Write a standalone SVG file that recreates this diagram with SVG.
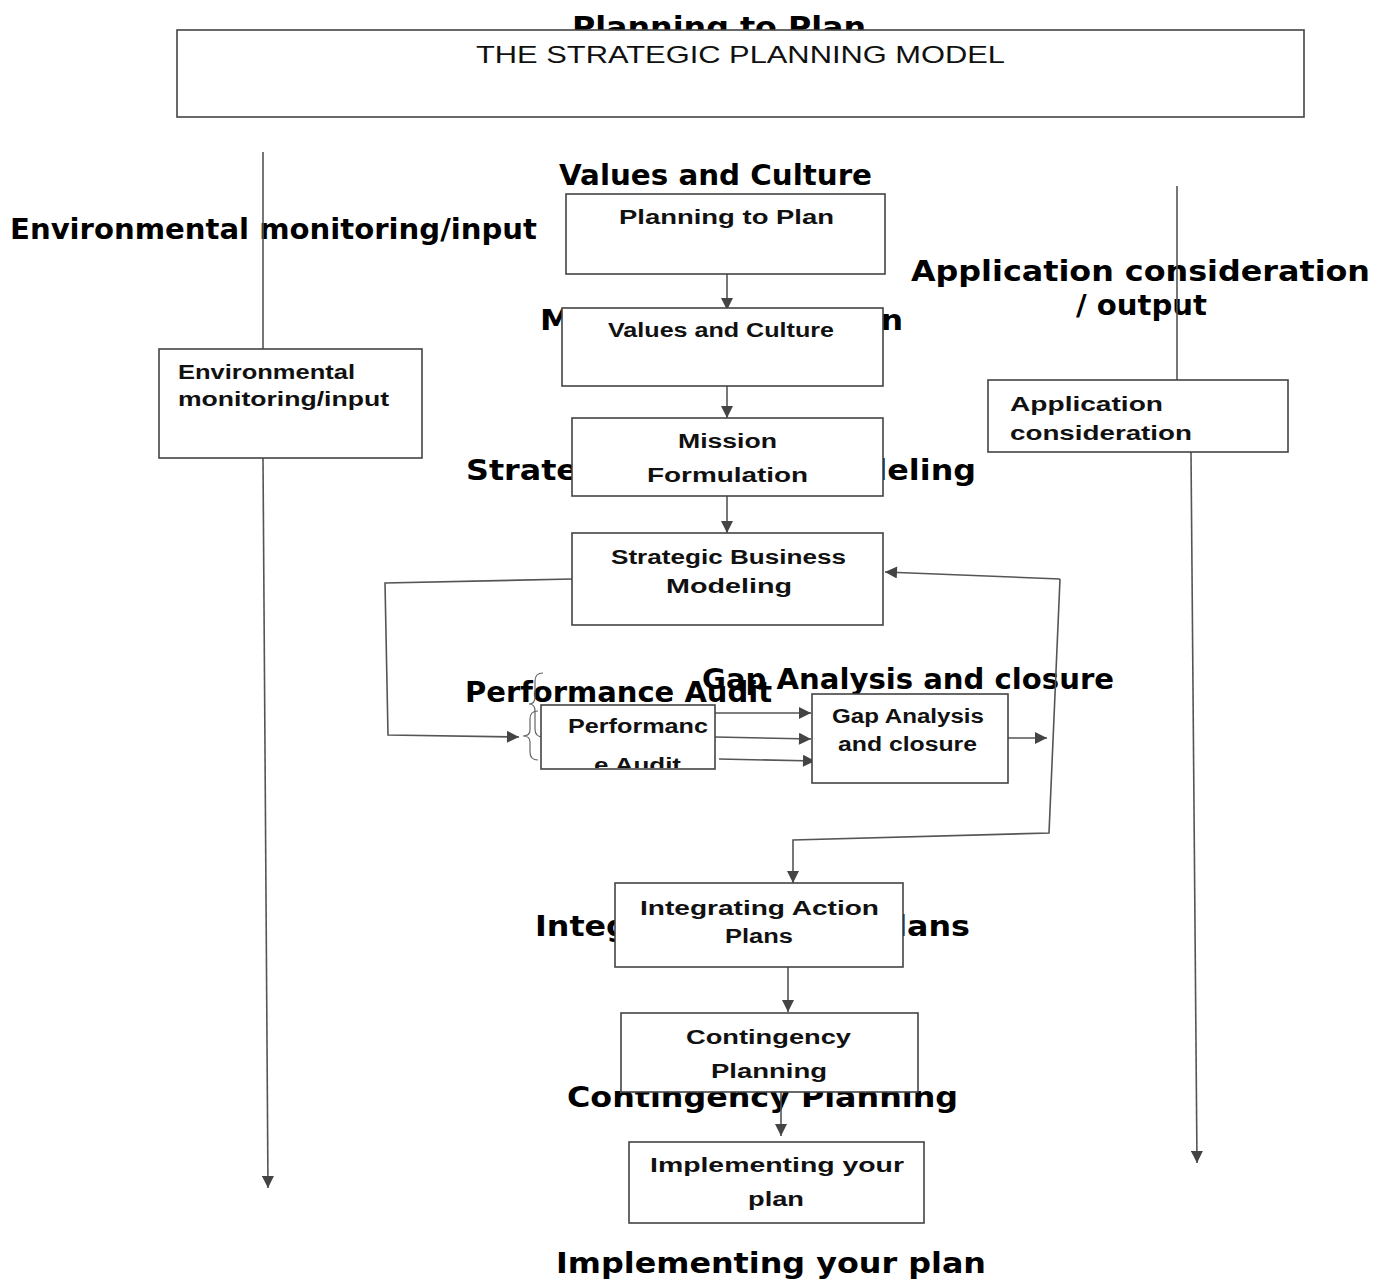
<svg xmlns="http://www.w3.org/2000/svg" width="1390" height="1281" viewBox="0 0 1390 1281">
<style>
.lbl{font-family:"DejaVu Sans",sans-serif;font-weight:bold;font-size:28px;fill:#000}
.box{fill:#fff;stroke:#444;stroke-width:1.6}
.bt{font-family:"Liberation Sans",Arial,sans-serif;font-weight:bold;font-size:20px;fill:#111}
.ttl{font-family:"Liberation Sans",Arial,sans-serif;font-size:24px;fill:#111}
.ln{fill:none;stroke:#555;stroke-width:1.6}
.arr{fill:none;stroke:#555;stroke-width:1.6;marker-end:url(#ah)}
.br{fill:none;stroke:#666;stroke-width:1.2}
</style>
<defs>
<marker id="ah" viewBox="0 0 10 10" refX="10" refY="5" markerWidth="13" markerHeight="12" markerUnits="userSpaceOnUse" orient="auto">
<path d="M0,0 L10,5 L0,10 z" fill="#444"/>
</marker>
<clipPath id="perfclip"><rect x="541" y="706" width="174" height="62"/></clipPath>
</defs>
<rect width="1390" height="1281" fill="#fff"/>

<g id="labels">
<text class="lbl" x="572" y="37" textLength="294" lengthAdjust="spacingAndGlyphs">Planning to Plan</text>
<text class="lbl" x="559" y="185" textLength="313" lengthAdjust="spacingAndGlyphs">Values and Culture</text>
<text class="lbl" x="10" y="239" textLength="527" lengthAdjust="spacingAndGlyphs">Environmental monitoring/input</text>
<text class="lbl" x="911" y="281" textLength="459" lengthAdjust="spacingAndGlyphs">Application consideration</text>
<text class="lbl" x="1076" y="315" textLength="131" lengthAdjust="spacingAndGlyphs">/ output</text>
<text class="lbl" x="540" y="330" textLength="363" lengthAdjust="spacingAndGlyphs">Mission Formulation</text>
<text class="lbl" x="466" y="480" textLength="510" lengthAdjust="spacingAndGlyphs">Strategic Business Modeling</text>
<text class="lbl" x="465" y="702" textLength="307" lengthAdjust="spacingAndGlyphs">Performance Audit</text>
<text class="lbl" x="702" y="689" textLength="412" lengthAdjust="spacingAndGlyphs">Gap Analysis and closure</text>
<text class="lbl" x="535" y="936" textLength="435" lengthAdjust="spacingAndGlyphs">Integrating Action Plans</text>
<text class="lbl" x="567" y="1107" textLength="391" lengthAdjust="spacingAndGlyphs">Contingency Planning</text>
<text class="lbl" x="556" y="1273" textLength="430" lengthAdjust="spacingAndGlyphs">Implementing your plan</text>
</g>

<g id="connectors">
<path class="ln" d="M263,152 L263,349"/>
<path class="arr" d="M263,458 L268,1188"/>
<path class="ln" d="M1177,186 L1177,381"/>
<path class="arr" d="M1191,452 L1197,1163"/>
<path class="arr" d="M727,274 L727,310"/>
<path class="arr" d="M727,380 L727,418"/>
<path class="arr" d="M727,496 L727,533"/>
<path class="arr" d="M572,579 L385,583 L388,735 L519,737"/>
<path class="arr" d="M715,713 L811,713"/>
<path class="arr" d="M715,737 L811,739"/>
<path class="arr" d="M719,759 L815,761"/>
<path class="arr" d="M1008,738 L1047,738"/>
<path class="arr" d="M1060,579 L885,572"/>
<path class="arr" d="M1060,579 L1049,833 L793,840 L793,883"/>
<path class="arr" d="M788,967 L788,1012"/>
<path class="arr" d="M781,1092 L781,1136"/>
<path class="br" d="M543,673 Q535,673 535,681 L535,697 Q535,704 529,704 Q535,704 535,711 L535,729 Q535,737 543,737"/>
<path class="br" d="M538,711 Q530,711 530,719 L530,730 Q530,736 523,736 Q530,736 530,742 L530,752 Q530,760 538,760"/>
</g>

<g id="title">
<rect class="box" x="177" y="30" width="1127" height="87" stroke="#333"/>
<text class="ttl" x="476" y="63" textLength="529" lengthAdjust="spacingAndGlyphs">THE STRATEGIC PLANNING MODEL</text>
</g>

<g id="planning">
<rect class="box" x="566" y="194" width="319" height="80"/>
<text class="bt" x="619" y="224" textLength="215" lengthAdjust="spacingAndGlyphs">Planning to Plan</text>
</g>

<g id="values">
<rect class="box" x="562" y="308" width="321" height="78"/>
<text class="bt" x="608" y="337" textLength="226" lengthAdjust="spacingAndGlyphs">Values and Culture</text>
</g>

<g id="mission">
<rect class="box" x="572" y="418" width="311" height="78"/>
<text class="bt" x="678" y="448" textLength="99" lengthAdjust="spacingAndGlyphs">Mission</text>
<text class="bt" x="647" y="482" textLength="161" lengthAdjust="spacingAndGlyphs">Formulation</text>
</g>

<g id="sbm">
<rect class="box" x="572" y="533" width="311" height="92"/>
<text class="bt" x="611" y="564" textLength="235" lengthAdjust="spacingAndGlyphs">Strategic Business</text>
<text class="bt" x="666" y="593" textLength="126" lengthAdjust="spacingAndGlyphs">Modeling</text>
</g>

<g id="environmental">
<rect class="box" x="159" y="349" width="263" height="109"/>
<text class="bt" x="178" y="379" textLength="177" lengthAdjust="spacingAndGlyphs">Environmental</text>
<text class="bt" x="178" y="406" textLength="211" lengthAdjust="spacingAndGlyphs">monitoring/input</text>
</g>

<g id="application">
<rect class="box" x="988" y="380" width="300" height="72"/>
<text class="bt" x="1010" y="411" textLength="153" lengthAdjust="spacingAndGlyphs">Application</text>
<text class="bt" x="1010" y="440" textLength="182" lengthAdjust="spacingAndGlyphs">consideration</text>
</g>

<g id="performance">
<rect class="box" x="541" y="705" width="174" height="64"/>
<text class="bt" x="568" y="733" textLength="140" lengthAdjust="spacingAndGlyphs">Performanc</text>
<text class="bt" x="594" y="772" textLength="87" lengthAdjust="spacingAndGlyphs" clip-path="url(#perfclip)">e Audit</text>
</g>

<g id="gap">
<rect class="box" x="812" y="694" width="196" height="89"/>
<text class="bt" x="832" y="723" textLength="152" lengthAdjust="spacingAndGlyphs">Gap Analysis</text>
<text class="bt" x="838" y="751" textLength="139" lengthAdjust="spacingAndGlyphs">and closure</text>
</g>

<g id="integrating">
<rect class="box" x="615" y="883" width="288" height="84"/>
<text class="bt" x="640" y="915" textLength="239" lengthAdjust="spacingAndGlyphs">Integrating Action</text>
<text class="bt" x="725" y="943" textLength="68" lengthAdjust="spacingAndGlyphs">Plans</text>
</g>

<g id="contingency">
<rect class="box" x="621" y="1013" width="297" height="79"/>
<text class="bt" x="686" y="1044" textLength="165" lengthAdjust="spacingAndGlyphs">Contingency</text>
<text class="bt" x="711" y="1078" textLength="116" lengthAdjust="spacingAndGlyphs">Planning</text>
</g>

<g id="implementing">
<rect class="box" x="629" y="1142" width="295" height="81"/>
<text class="bt" x="650" y="1172" textLength="254" lengthAdjust="spacingAndGlyphs">Implementing your</text>
<text class="bt" x="748" y="1206" textLength="56" lengthAdjust="spacingAndGlyphs">plan</text>
</g>
</svg>
